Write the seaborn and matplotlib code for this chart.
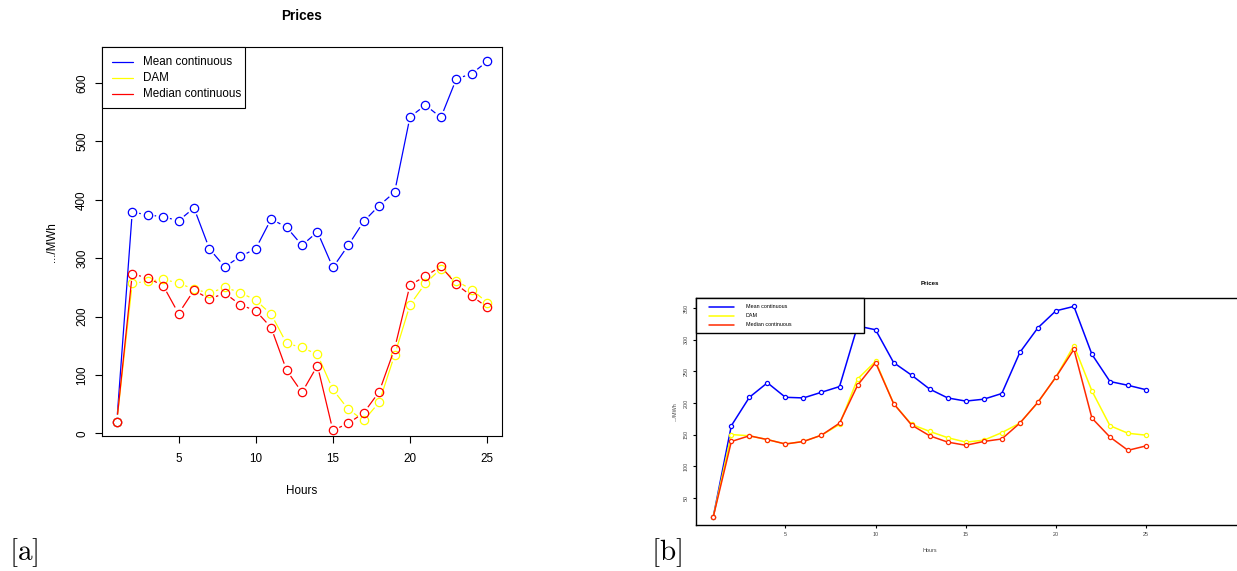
import numpy as np
import matplotlib
matplotlib.use('Agg')
import matplotlib.pyplot as plt
import seaborn as sns
from matplotlib.patches import Rectangle
from matplotlib.lines import Line2D

# ---- data ----
hours = list(range(1, 26))

# panel [a]
a_mean = [20, 379, 374, 371, 364, 386, 316, 285, 303, 316, 367, 353, 322,
          345, 284, 322, 363, 390, 413, 542, 562, 541, 607, 616, 637]
a_dam = [20, 257, 260, 264, 257, 247, 240, 250, 241, 228, 204, 154, 147,
         135, 75, 41, 22, 53, 134, 220, 257, 282, 261, 246, 224]
a_median = [20, 273, 266, 253, 205, 245, 230, 240, 220, 210, 181, 108, 70,
            116, 5, 17, 35, 71, 145, 254, 269, 286, 255, 235, 216]

# panel [b]
b_mean = [20, 164, 209, 232, 209, 208, 217, 226, 322, 316, 264, 244, 222,
          208, 203, 206, 215, 280, 319, 346, 353, 277, 234, 228, 221]
b_dam = [20, 150, 148, 142, 135, 139, 149, 166, 238, 266, 199, 166, 155,
         145, 138, 141, 153, 168, 201, 241, 291, 219, 164, 152, 149]
b_median = [20, 139, 148, 142, 135, 139, 149, 168, 228, 264, 199, 165, 148,
            138, 133, 139, 143, 168, 201, 241, 285, 176, 146, 125, 132]

series_names = ['Mean continuous', 'DAM', 'Median continuous']
a_colors = ['#0000ff', '#ffff00', '#ff0000']
b_colors = ['#0000ff', '#ffff00', '#ff2a00']

a_yticks = [0, 100, 200, 300, 400, 500, 600]
b_yticks = [50, 100, 150, 200, 250, 300, 350]
xticks = [5, 10, 15, 20, 25]

sns.set_style('ticks', rc={'axes.edgecolor': 'black', 'xtick.color': 'black',
                           'ytick.color': 'black', 'text.color': 'black',
                           'axes.labelcolor': 'black'})
plt.rcParams['font.family'] = ['Liberation Sans', 'DejaVu Sans']

W, H = 1237, 571
fig = plt.figure(figsize=(W / 100, H / 100), dpi=100)


def fx(px):
    return px / W


def fy(py):
    return 1 - py / H


def rect(l, t, r, b):
    return [l / W, 1 - b / H, (r - l) / W, (b - t) / H]


def r_ylim(vals):
    # R style 4% padding around the first plotted series
    lo, hi = min(vals), max(vals)
    pad = 0.04 * (hi - lo)
    return lo - pad, hi + pad


def gapped_line(ax, x, y, color, gap=7, lw=0.9):
    # R type="b": segments stop short of each point
    pts = ax.transData.transform(np.column_stack([x, y]))
    inv = ax.transData.inverted()
    for p0, p1 in zip(pts[:-1], pts[1:]):
        d = p1 - p0
        L = np.hypot(*d)
        if L <= 2 * gap:
            continue
        u = d / L
        seg = inv.transform(np.array([p0 + u * gap, p1 - u * gap]))
        ax.plot(seg[:, 0], seg[:, 1], color=color, lw=lw, solid_capstyle='butt')


def draw_legend(box, line_x, text_x, rows_y, colors, fs, lw, frame_lw):
    l, t, r, b = box
    fig.add_artist(Rectangle((fx(l), fy(b)), (r - l) / W, (b - t) / H,
                             transform=fig.transFigure, facecolor='white',
                             edgecolor='black', lw=frame_lw, zorder=5))
    for name, c, yy in zip(series_names, colors, rows_y):
        fig.add_artist(Line2D([fx(line_x[0]), fx(line_x[1])], [fy(yy), fy(yy)],
                              transform=fig.transFigure, color=c, lw=lw, zorder=6))
        fig.text(fx(text_x), fy(yy), name, fontsize=fs, va='center', ha='left',
                 zorder=6)


# ---------------- panel [a] ----------------
ax_a = fig.add_axes(rect(102, 47, 502, 436))
ax_a.set_xlim(0.04, 25.96)
ax_a.set_ylim(*r_ylim(a_mean))

for vals, c in zip([a_mean, a_dam, a_median], a_colors):
    gapped_line(ax_a, hours, vals, c)
    sns.lineplot(x=hours, y=vals, ax=ax_a, lw=0, marker='o', ms=6.0,
                 mfc='none', mec=c, mew=0.9, color=c)

ax_a.set_xticks(xticks)
ax_a.set_yticks(a_yticks)
ax_a.tick_params(direction='out', length=5, width=0.8, labelsize=8.4)
ax_a.tick_params(axis='x', pad=7)
ax_a.tick_params(axis='y', pad=5, labelrotation=90)
for lab in ax_a.get_yticklabels():
    lab.set_va('center')
for sp in ax_a.spines.values():
    sp.set_visible(True)
    sp.set_linewidth(0.8)
ax_a.set_xlabel('')
ax_a.set_ylabel('')

fig.text(fx(302), fy(16), 'Prices', fontsize=9.8, fontweight='bold',
         ha='center', va='center')
fig.text(fx(302), fy(491), 'Hours', fontsize=8.4, ha='center', va='center')
fig.text(fx(52), fy(242), '.../MWh', fontsize=8.4, ha='center', va='center',
         rotation=90)
draw_legend((102, 47, 245, 108), (112, 133), 143, (62, 78, 94), a_colors,
            8.4, 0.9, 0.8)

# ---------------- panel [b] ----------------
ax_b = fig.add_axes(rect(696, 298, 1240, 525))
ax_b.set_xlim(0.04, 0.04 + (1240 - 696) / 18.03)
ax_b.set_ylim(*r_ylim(b_mean))

for vals, c in zip([b_mean, b_dam, b_median], b_colors):
    sns.lineplot(x=hours, y=vals, ax=ax_b, lw=1.1, marker='o', ms=3.0,
                 mfc='white', mec=c, mew=0.9, color=c)

ax_b.set_xticks(xticks)
ax_b.set_yticks(b_yticks)
ax_b.tick_params(direction='out', length=2.2, width=0.8, labelsize=3.9,
                 labelcolor='#444444')
ax_b.tick_params(axis='x', pad=3)
ax_b.tick_params(axis='y', pad=3, labelrotation=90)
for lab in ax_b.get_yticklabels():
    lab.set_va('center')
for sp in ax_b.spines.values():
    sp.set_visible(True)
    sp.set_linewidth(1.0)
ax_b.set_xlabel('')
ax_b.set_ylabel('')

fig.text(fx(930), fy(283.5), 'Prices', fontsize=4.4, fontweight='bold',
         ha='center', va='center')
fig.text(fx(930), fy(550.5), 'Hours', fontsize=3.9, ha='center', va='center',
         color='#444444')
fig.text(fx(675), fy(412), '.../MWh', fontsize=3.9, ha='center', va='center',
         rotation=90, color='#444444')
draw_legend((696, 298, 864, 333), (709, 734), 746, (306.7, 315.7, 324.7),
            b_colors, 3.9, 1.1, 1.0)

# panel tags
fig.text(fx(9), fy(553), r'$[\mathrm{a}]$', fontsize=21, math_fontfamily='cm',
         ha='left', va='center')
fig.text(fx(651), fy(553), r'$[\mathrm{b}]$', fontsize=21, math_fontfamily='cm',
         ha='left', va='center')

fig.savefig('out.png', dpi=100)
